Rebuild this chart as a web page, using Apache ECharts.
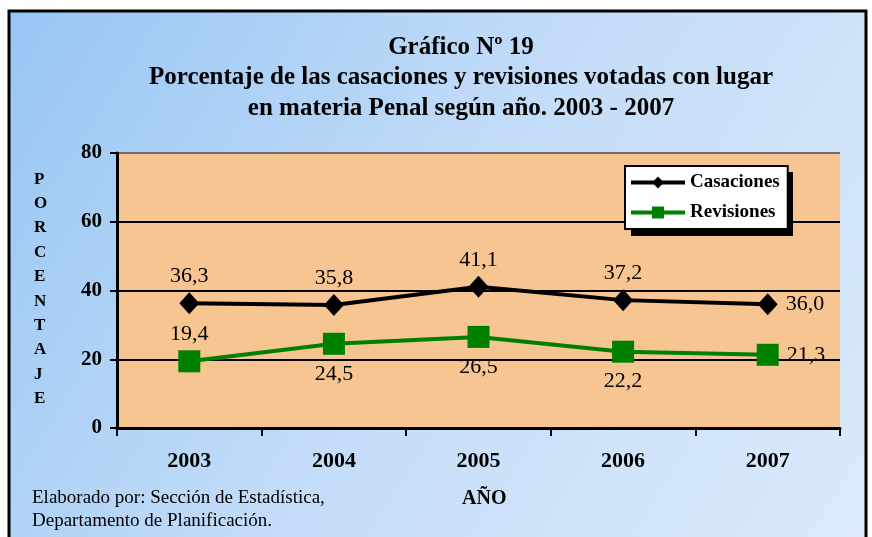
<!DOCTYPE html>
<html>
<head>
<meta charset="utf-8">
<script src="https://cdn.jsdelivr.net/npm/echarts@6/dist/echarts.min.js"></script>
<style>
  html, body { margin: 0; padding: 0; }
  #chart { width: 872px; height: 537px; }
</style>
</head>
<body>
<div id="chart"></div>
<script>
// años
const years = ['2003', '2004', '2005', '2006', '2007'];
// porcentajes
const casaciones = [36.3, 35.8, 41.1, 37.2, 36.0];
const revisiones = [19.4, 24.5, 26.5, 22.2, 21.3];
// donde va cada etiqueta (movidas a mano en el original)
const casLabelPos = ['top', 'top', 'top', 'top', 'right'];
const revLabelPos = ['top', 'bottom', 'bottom', 'bottom', 'right'];

const serif = 'Liberation Serif';
const fmt = v => v.toFixed(1).replace('.', ',');

function buildData(values, positions) {
  return values.map((v, i) => ({
    value: v,
    label: {
      position: positions[i],
      distance: positions[i] === 'top' ? 5 : 8
    }
  }));
}

const chart = echarts.init(document.getElementById('chart'));

const options = {
  animation: false,
  textStyle: { fontFamily: serif },
  graphic: [
    {
      type: 'rect',
      z: -10,
      shape: { x: 9, y: 11, width: 857, height: 540 },
      style: {
        fill: new echarts.graphic.LinearGradient(0, 0, 1, 1, [
          { offset: 0, color: '#98c6f4' },
          { offset: 0.5, color: '#c4ddf8' },
          { offset: 1, color: '#dceafb' }
        ]),
        stroke: '#000',
        lineWidth: 3
      }
    },
    {
      // sombra de la leyenda
      type: 'rect',
      z: 0,
      shape: { x: 631, y: 172, width: 162, height: 64 },
      style: { fill: '#000' }
    },
    {
      type: 'text',
      left: 34,
      top: 167,
      style: {
        text: 'PORCENTAJE'.split('').join('\n'),
        font: 'bold 17px "Liberation Serif"',
        lineHeight: 24.4,
        align: 'center',
        fill: '#000'
      }
    },
    {
      type: 'text',
      left: 462,
      top: 489,
      style: { text: 'AÑO', font: 'bold 20px "Liberation Serif"', fill: '#000' }
    },
    {
      type: 'text',
      left: 32,
      top: 487,
      style: {
        text: 'Elaborado por: Sección de Estadística,\nDepartamento de Planificación.',
        font: '19px "Liberation Serif"',
        lineHeight: 23,
        fill: '#000'
      }
    }
  ],
  title: {
    text: 'Gráfico Nº 19\nPorcentaje de las casaciones y revisiones votadas con lugar\nen materia Penal según año. 2003 - 2007',
    left: 456,
    textAlign: 'center',
    top: 27,
    textStyle: {
      fontFamily: serif,
      fontWeight: 'bold',
      fontSize: 25,
      lineHeight: 30.5,
      color: '#000'
    }
  },
  legend: {
    left: 625,
    top: 166,
    orient: 'vertical',
    backgroundColor: '#fff',
    borderColor: '#000',
    borderWidth: 2,
    borderRadius: 0,
    padding: [7, 8, 7, 4],
    itemGap: 11,
    itemWidth: 54,
    itemHeight: 15,
    lineStyle: { width: 4 },
    z: 5,
    textStyle: { fontFamily: serif, fontWeight: 'bold', fontSize: 19, color: '#000' },
    data: ['Casaciones', 'Revisiones']
  },
  grid: { left: 117, top: 153, width: 723, height: 275, show: true, backgroundColor: '#f6c592', borderWidth: 0 },
  xAxis: {
    type: 'category',
    data: years,
    boundaryGap: true,
    axisLine: { lineStyle: { color: '#000', width: 3 } },
    axisTick: { show: true, length: 8, lineStyle: { color: '#000', width: 2 } },
    axisLabel: { margin: 22, fontFamily: serif, fontWeight: 'bold', fontSize: 22, color: '#000' }
  },
  yAxis: {
    type: 'value',
    min: 0,
    max: 80,
    interval: 20,
    axisLine: { show: true, lineStyle: { color: '#000', width: 3 } },
    axisTick: { show: true, length: 7, lineStyle: { color: '#000', width: 2 } },
    axisLabel: { margin: 15, fontFamily: serif, fontWeight: 'bold', fontSize: 21, color: '#000' },
    splitLine: { lineStyle: { color: ['#000', '#000', '#000', '#000', '#6e6e6e'], width: 2 } }
  },
  series: [
    {
      name: 'Casaciones',
      type: 'line',
      data: buildData(casaciones, casLabelPos),
      symbol: 'diamond',
      symbolSize: [20, 22],
      lineStyle: { color: '#000', width: 4 },
      itemStyle: { color: '#000' },
      label: { show: true, formatter: p => fmt(p.value), fontFamily: serif, fontSize: 22, color: '#000' },
      z: 3
    },
    {
      name: 'Revisiones',
      type: 'line',
      data: buildData(revisiones, revLabelPos),
      symbol: 'rect',
      symbolSize: 22,
      lineStyle: { color: '#008000', width: 4 },
      itemStyle: { color: '#008000' },
      label: { show: true, formatter: p => fmt(p.value), fontFamily: serif, fontSize: 22, color: '#000' },
      z: 3
    }
  ]
};

chart.setOption(options);
</script>
</body>
</html>
